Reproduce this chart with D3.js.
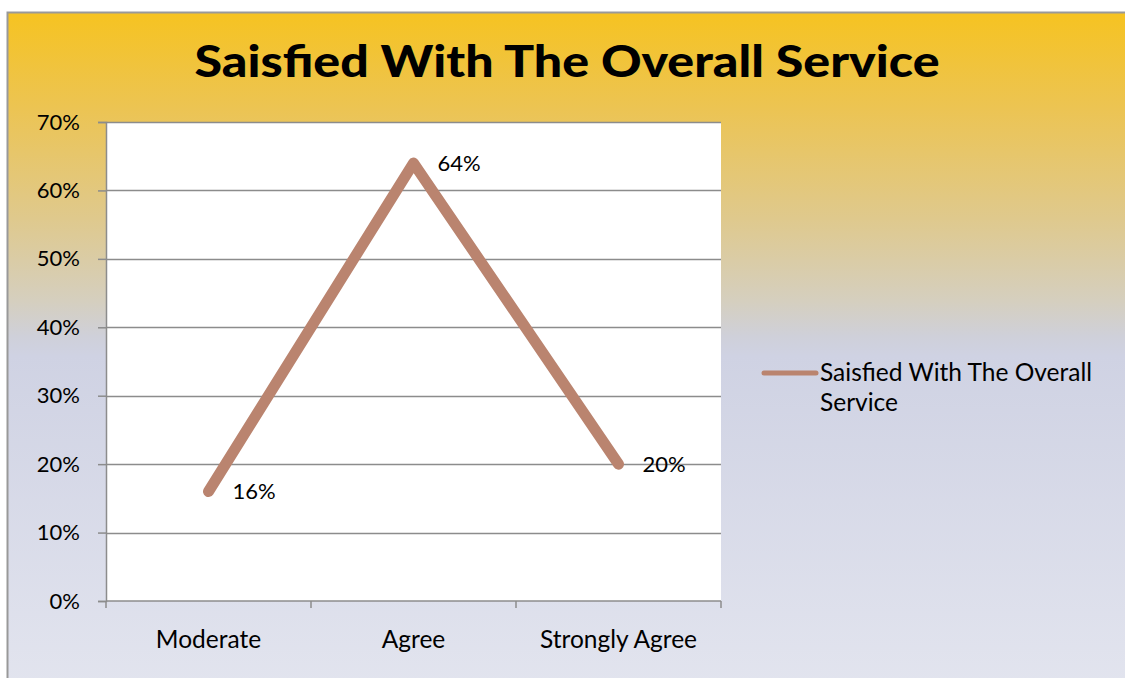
<!DOCTYPE html>
<html>
<head>
<meta charset="utf-8">
<script src="https://cdn.jsdelivr.net/npm/d3@7"></script>
<style>
  html, body { margin: 0; padding: 0; background: #ffffff; }
  svg { display: block; }
  text { font-family: "Gill Sans", "Lato", "Open Sans", sans-serif; fill: #000; }
</style>
</head>
<body>
<svg id="chart" width="1125" height="678"></svg>
<script>
// Survey responses: share of respondents per agreement level
const categories = ["Moderate", "Agree", "Strongly Agree"];
const seriesName = "Saisfied With The Overall Service";
const values = [0.16, 0.64, 0.20];
const yTicks = [0, 0.1, 0.2, 0.3, 0.4, 0.5, 0.6, 0.7];
const titleText = "Saisfied With The Overall Service";
const legendLines = ["Saisfied With The Overall", "Service"];

const svg = d3.select("#chart");
const W = 1125, H = 678;

// Chart area background gradient (yellow at top fading into lavender grey)
const defs = svg.append("defs");
const grad = defs.append("linearGradient")
  .attr("id", "bg").attr("x1", 0).attr("y1", 0).attr("x2", 0).attr("y2", 1);
[["0%", "#f6c321"], ["14%", "#ecc453"], ["30%", "#dfc98d"], ["42%", "#d5cfbf"],
 ["47%", "#cfd0d9"], ["50%", "#cfd2e3"], ["100%", "#e3e5ef"]]
  .forEach(([o, c]) => grad.append("stop").attr("offset", o).attr("stop-color", c));

svg.append("rect")
  .attr("x", 7.5).attr("y", 12.5).attr("width", W + 10).attr("height", H + 10)
  .attr("fill", "url(#bg)").attr("stroke", "#999").attr("stroke-width", 2);

// Plot geometry
const plot = { left: 106, right: 721, top: 122, bottom: 601 };

const x = d3.scaleBand().domain(categories).range([plot.left, plot.right]).padding(0);
const y = d3.scaleLinear().domain([0, 0.7]).range([plot.bottom, plot.top]);

svg.append("rect")
  .attr("x", plot.left).attr("y", plot.top)
  .attr("width", plot.right - plot.left).attr("height", plot.bottom - plot.top)
  .attr("fill", "#ffffff");

// Horizontal gridlines
svg.append("g").selectAll("line").data(yTicks.slice(1)).join("line")
  .attr("x1", plot.left).attr("x2", plot.right)
  .attr("y1", d => Math.round(y(d)) + 0.5).attr("y2", d => Math.round(y(d)) + 0.5)
  .attr("stroke", "#8c8c8c").attr("stroke-width", 1.3);

// Y axis
const yAxis = svg.append("g")
  .attr("transform", `translate(${plot.left},0)`)
  .call(d3.axisLeft(y).tickValues(yTicks).tickFormat(d3.format(".0%")).tickSize(8).tickPadding(18));
yAxis.select(".domain").attr("stroke", "#8c8c8c").attr("stroke-width", 1.5);
yAxis.selectAll(".tick line").attr("stroke", "#8c8c8c").attr("stroke-width", 1.5);
yAxis.selectAll(".tick text").attr("font-size", 22).attr("font-family", "Lato, sans-serif").attr("fill", "#000");

// X axis: ticks on band boundaries, labels centred in bands
const xAxisG = svg.append("g").attr("transform", `translate(0,${plot.bottom})`);
xAxisG.append("line")
  .attr("x1", plot.left).attr("x2", plot.right).attr("y1", 0).attr("y2", 0)
  .attr("stroke", "#8c8c8c").attr("stroke-width", 1.5);
const bounds = categories.map(c => x(c)).concat([x(categories[categories.length - 1]) + x.bandwidth()]);
xAxisG.selectAll("line.tk").data(bounds).join("line").attr("class", "tk")
  .attr("x1", d => d).attr("x2", d => d).attr("y1", 0).attr("y2", 7)
  .attr("stroke", "#8c8c8c").attr("stroke-width", 1.5);
xAxisG.selectAll("text").data(categories).join("text")
  .attr("x", d => x(d) + x.bandwidth() / 2).attr("y", 47)
  .attr("text-anchor", "middle").attr("font-size", 24.5)
  .text(d => d);

// Series line
const pts = categories.map((c, i) => ({ c, v: values[i] }));
const line = d3.line().x(d => x(d.c) + x.bandwidth() / 2).y(d => y(d.v));
svg.append("path").datum(pts)
  .attr("d", line).attr("fill", "none")
  .attr("stroke", "#ba846f").attr("stroke-width", 11)
  .attr("stroke-linecap", "round").attr("stroke-linejoin", "round");

// Data labels, right of each point
svg.append("g").selectAll("text").data(pts).join("text")
  .attr("x", d => x(d.c) + x.bandwidth() / 2 + 24)
  .attr("y", d => y(d.v) + 2)
  .attr("dominant-baseline", "middle")
  .attr("font-size", 22)
  .text(d => d3.format(".0%")(d.v));

// Title
svg.append("text")
  .attr("x", 567).attr("y", 77)
  .attr("text-anchor", "middle").attr("font-size", 44).attr("font-weight", 900)
  .attr("textLength", 745).attr("lengthAdjust", "spacingAndGlyphs")
  .text(titleText);

// Legend
const lg = svg.append("g");
lg.append("line").attr("x1", 764).attr("x2", 816).attr("y1", 373).attr("y2", 373)
  .attr("stroke", "#ba846f").attr("stroke-width", 5).attr("stroke-linecap", "round");
const lt = lg.append("text").attr("x", 820).attr("y", 381).attr("font-size", 24.5);
lt.selectAll("tspan").data(legendLines).join("tspan")
  .attr("x", 820).attr("dy", (d, i) => i === 0 ? 0 : 30).text(d => d);
</script>
</body>
</html>
